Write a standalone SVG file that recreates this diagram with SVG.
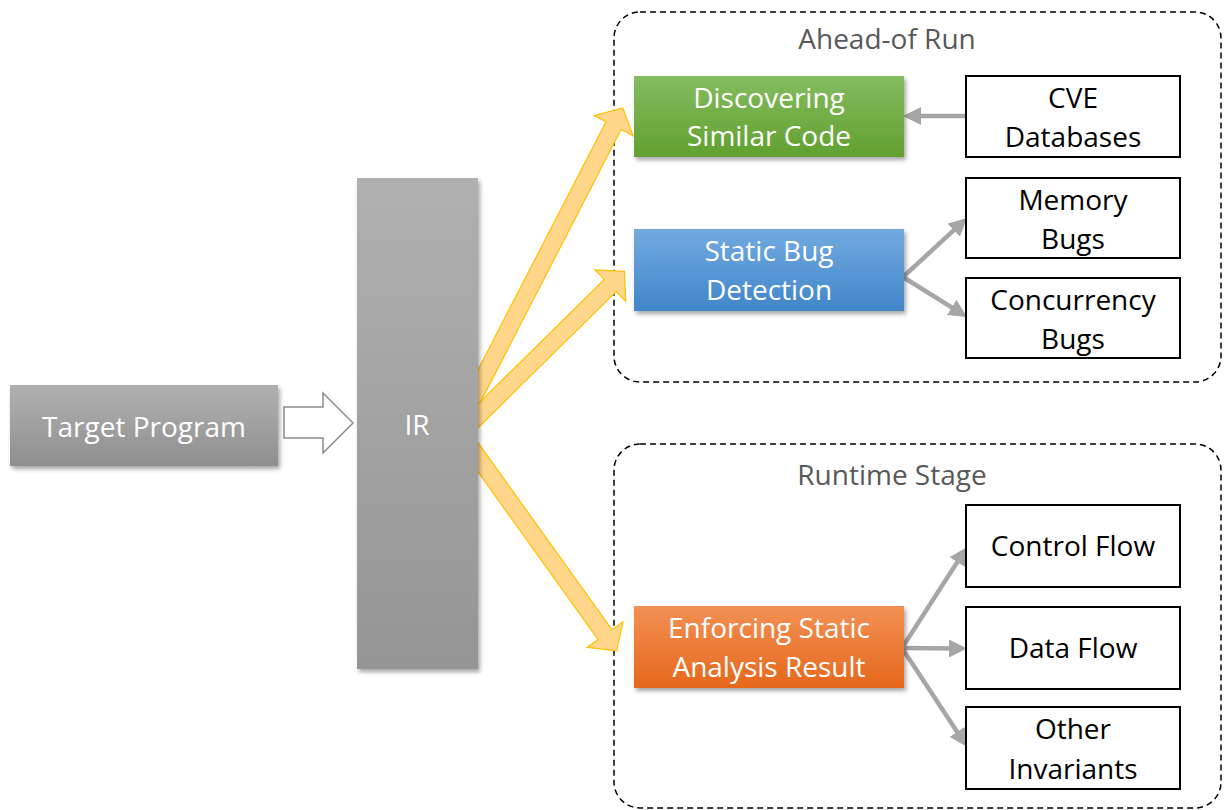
<svg xmlns="http://www.w3.org/2000/svg" width="1225" height="810" viewBox="0 0 1225 810">
<style>
  .lbl { font-family: "Open Sans", "Noto Sans", sans-serif; font-size: 28px; text-anchor: middle; }
  .w { fill: #ffffff; }
  .k { fill: #000000; }
  .g { fill: #595959; }
  .box { fill: #ffffff; stroke: #000000; stroke-width: 2; }
  .group { fill: none; stroke: #000000; stroke-width: 1.5; stroke-dasharray: 6 4; }
  .fat { fill: #FFD68A; stroke: #FFC000; stroke-width: 1.2; stroke-linejoin: miter; }
  .conn { stroke: #A6A6A6; stroke-width: 4.5; fill: none; marker-end: url(#ah); }
</style>
<defs>
  <filter id="sh" x="-10%" y="-10%" width="130%" height="130%">
    <feDropShadow dx="2" dy="3" stdDeviation="2" flood-color="#000000" flood-opacity="0.35"/>
  </filter>
  <linearGradient id="gGray" x1="0" y1="0" x2="0" y2="1">
    <stop offset="0" stop-color="#B1B1B1"/>
    <stop offset="1" stop-color="#8F8F8F"/>
  </linearGradient>
  <linearGradient id="gIR" x1="0" y1="0" x2="0" y2="1">
    <stop offset="0" stop-color="#B0B0B0"/>
    <stop offset="1" stop-color="#959595"/>
  </linearGradient>
  <linearGradient id="gGreen" x1="0" y1="0" x2="0" y2="1">
    <stop offset="0" stop-color="#84BC60"/>
    <stop offset="1" stop-color="#62A02F"/>
  </linearGradient>
  <linearGradient id="gBlue" x1="0" y1="0" x2="0" y2="1">
    <stop offset="0" stop-color="#72AAE0"/>
    <stop offset="1" stop-color="#4186C9"/>
  </linearGradient>
  <linearGradient id="gOrange" x1="0" y1="0" x2="0" y2="1">
    <stop offset="0" stop-color="#F29154"/>
    <stop offset="1" stop-color="#E6681C"/>
  </linearGradient>
  <marker id="ah" markerUnits="userSpaceOnUse" markerWidth="18" markerHeight="18" refX="8" refY="9" orient="auto">
    <path d="M0,0 L18,9 L0,18 z" fill="#A6A6A6"/>
  </marker>
</defs>

<g id="group-ahead">
  <rect class="group" x="614" y="12" width="607" height="370" rx="26"/>
  <text class="lbl g" x="887" y="49">Ahead-of Run</text>
</g>
<g id="group-runtime">
  <rect class="group" x="614" y="444" width="607" height="364" rx="26"/>
  <text class="lbl g" x="892" y="485">Runtime Stage</text>
</g>

<g id="connectors">
  <polygon id="hollow-arrow" points="284,407 323,407 323,393 353,423 323,453 323,438 284,438" fill="#ffffff" stroke="#8C8C8C" stroke-width="1.5"/>
  <polygon class="fat" transform="translate(470,403.8) rotate(-62.7)" points="0,-8.5 313,-8.5 313,-22 333,0 313,22 313,8.5 0,8.5"/>
  <polygon class="fat" transform="translate(470,423.8) rotate(-44.6)" points="0,-8.5 197,-8.5 197,-22 217,0 197,22 197,8.5 0,8.5"/>
  <polygon class="fat" transform="translate(470,446) rotate(54.4)" points="0,-8.5 232,-8.5 232,-22 252,0 232,22 232,8.5 0,8.5"/>
  <line class="conn" x1="966" y1="116" x2="913" y2="116"/>
  <line class="conn" x1="903" y1="277" x2="959.6" y2="224.8"/>
  <line class="conn" x1="903" y1="277" x2="958.5" y2="311.7"/>
  <line class="conn" x1="902" y1="648" x2="961.6" y2="555.4"/>
  <line class="conn" x1="902" y1="648" x2="957" y2="648.5"/>
  <line class="conn" x1="902" y1="648" x2="961.5" y2="738.6"/>
</g>

<g id="target-program">
  <rect x="10" y="385" width="268" height="81" fill="url(#gGray)" filter="url(#sh)"/>
  <text class="lbl w" x="144" y="437">Target Program</text>
</g>
<g id="ir">
  <rect x="357" y="178" width="121" height="491" fill="url(#gIR)" filter="url(#sh)"/>
  <text class="lbl w" x="417" y="435">IR</text>
</g>
<g id="discovering">
  <rect x="634" y="76" width="270" height="81" fill="url(#gGreen)" filter="url(#sh)"/>
  <text class="lbl w" x="769" y="108">Discovering</text>
  <text class="lbl w" x="769" y="146">Similar Code</text>
</g>
<g id="static-bug">
  <rect x="634" y="229" width="270" height="82" fill="url(#gBlue)" filter="url(#sh)"/>
  <text class="lbl w" x="769" y="261">Static Bug</text>
  <text class="lbl w" x="769" y="300">Detection</text>
</g>
<g id="enforcing">
  <rect x="634" y="606" width="270" height="82" fill="url(#gOrange)" filter="url(#sh)"/>
  <text class="lbl w" x="769" y="638">Enforcing Static</text>
  <text class="lbl w" x="769" y="677">Analysis Result</text>
</g>
<g id="cve">
  <rect class="box" x="966" y="76" width="214" height="81"/>
  <text class="lbl k" x="1073" y="108">CVE</text>
  <text class="lbl k" x="1073" y="147">Databases</text>
</g>
<g id="memory-bugs">
  <rect class="box" x="966" y="178" width="214" height="80"/>
  <text class="lbl k" x="1073" y="210">Memory</text>
  <text class="lbl k" x="1073" y="249">Bugs</text>
</g>
<g id="concurrency-bugs">
  <rect class="box" x="966" y="278" width="214" height="80"/>
  <text class="lbl k" x="1073" y="310">Concurrency</text>
  <text class="lbl k" x="1073" y="349">Bugs</text>
</g>
<g id="control-flow">
  <rect class="box" x="966" y="505" width="214" height="82"/>
  <text class="lbl k" x="1073" y="556">Control Flow</text>
</g>
<g id="data-flow">
  <rect class="box" x="966" y="607" width="214" height="82"/>
  <text class="lbl k" x="1073" y="658">Data Flow</text>
</g>
<g id="other-invariants">
  <rect class="box" x="966" y="707" width="214" height="82"/>
  <text class="lbl k" x="1073" y="739">Other</text>
  <text class="lbl k" x="1073" y="779">Invariants</text>
</g>
</svg>
